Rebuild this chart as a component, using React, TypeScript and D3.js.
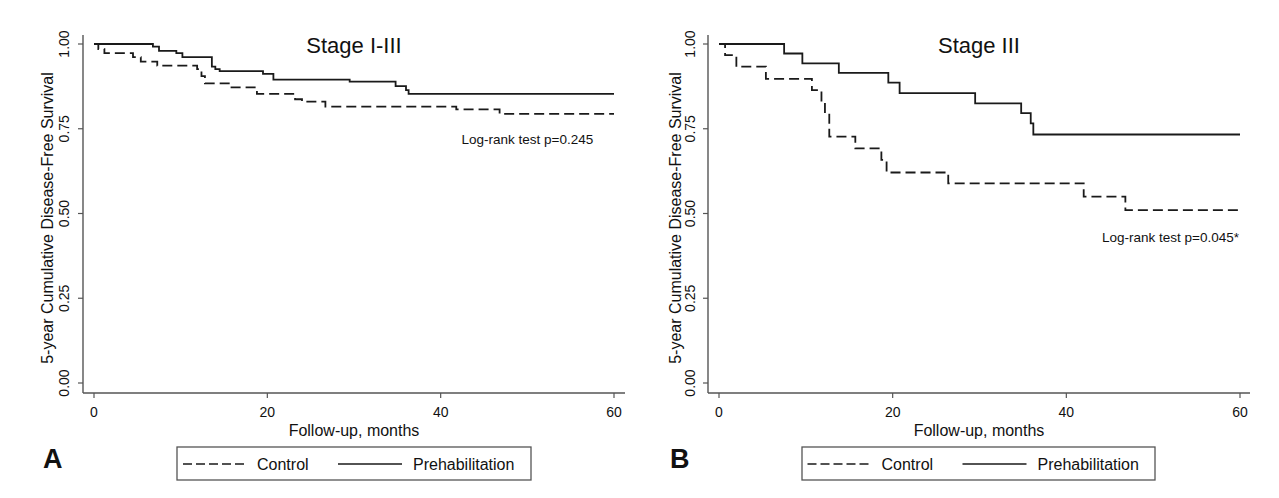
import React from "react";
import * as d3 from "d3";

// ---- data ----
const xTickValues = [0, 20, 40, 60];
const yTickValues = [0, 0.25, 0.5, 0.75, 1];
const yTickLabels = ["0.00", "0.25", "0.50", "0.75", "1.00"];

// Panel A: Stage I-III
const prehabA_t = [0, 6.8, 7.5, 9.5, 10.2, 13.6, 14.0, 14.5, 19.5, 20.7, 29.5, 34.8, 36.0, 36.3, 60];
const prehabA_s = [1.0, 0.992, 0.98, 0.973, 0.961, 0.933, 0.926, 0.92, 0.912, 0.895, 0.889, 0.876, 0.864, 0.853, 0.853];
const controlA_t = [0, 0.5, 1.2, 4.5, 5.4, 7.3, 11.9, 12.4, 12.8, 15.7, 18.8, 23.2, 24.0, 26.7, 41.8, 46.8, 60];
const controlA_s = [1.0, 0.985, 0.973, 0.961, 0.948, 0.936, 0.926, 0.905, 0.884, 0.872, 0.853, 0.837, 0.83, 0.815, 0.807, 0.794, 0.794];

// Panel B: Stage III
const prehabB_t = [0, 7.5, 9.6, 13.8, 19.5, 20.8, 29.5, 34.8, 35.9, 36.2, 60];
const prehabB_s = [1.0, 0.972, 0.943, 0.915, 0.886, 0.855, 0.825, 0.796, 0.766, 0.733, 0.733];
const controlB_t = [0, 0.7, 2.0, 5.4, 10.7, 11.8, 12.2, 12.7, 15.7, 18.7, 19.3, 26.4, 42.0, 46.8, 60];
const controlB_s = [1.0, 0.967, 0.933, 0.897, 0.864, 0.83, 0.795, 0.727, 0.692, 0.658, 0.621, 0.589, 0.55, 0.51, 0.51];

const panels = [
  {
    letter: "A",
    title: "Stage I-III",
    logrank: "Log-rank test p=0.245",
    logrankAt: [50, 0.705],
    prehab: { t: prehabA_t, s: prehabA_s },
    control: { t: controlA_t, s: controlA_s },
    x0: 94, x60: 614, axisL: 83, axisR: 625,
    tickLabelX: 69, titleX: 53, letterX: 43,
    legendL: 177, legendR: 531,
  },
  {
    letter: "B",
    title: "Stage III",
    logrank: "Log-rank test p=0.045*",
    logrankAt: [52, 0.415],
    prehab: { t: prehabB_t, s: prehabB_s },
    control: { t: controlB_t, s: controlB_s },
    x0: 719, x60: 1240, axisL: 708, axisR: 1250,
    tickLabelX: 695, titleX: 681, letterX: 670,
    legendL: 802, legendR: 1155,
  },
];

const FONT = "'Liberation Sans', Arial, Helvetica, sans-serif";
const LINE = "#1a1a1a";
const AXIS = "#555";

function Panel({ p }: { p: any }) {
  const x = d3.scaleLinear().domain([0, 60]).range([p.x0, p.x60]);
  const y = d3.scaleLinear().domain([0, 1]).range([383, 44]);
  const axisY = 393;
  const axisTop = 35;
  const line = d3
    .line<number>()
    .x((_, i) => 0)
    .curve(d3.curveStepAfter);
  const mk = (ser: { t: number[]; s: number[] }) =>
    d3
      .line<number>()
      .x((d, i) => x(ser.t[i]))
      .y((d) => y(d))
      .curve(d3.curveStepAfter)(ser.s) as string;
  void line;
  const cx = (p.axisL + p.axisR) / 2;
  const legCx = (p.legendL + p.legendR) / 2;
  return (
    <g fontFamily={FONT}>
      {/* axes */}
      <line x1={p.axisL} x2={p.axisL} y1={axisTop} y2={axisY} stroke={AXIS} strokeWidth={1.4} />
      <line x1={p.axisL} x2={p.axisR} y1={axisY} y2={axisY} stroke={AXIS} strokeWidth={1.4} />
      {yTickValues.map((v, i) => (
        <g key={"y" + i}>
          <line x1={p.axisL - 5} x2={p.axisL} y1={y(v)} y2={y(v)} stroke={AXIS} strokeWidth={1.2} />
          <text
            transform={`translate(${p.tickLabelX},${y(v)}) rotate(-90)`}
            textAnchor="middle"
            fontSize={14}
            fill="#111"
          >
            {yTickLabels[i]}
          </text>
        </g>
      ))}
      {xTickValues.map((v) => (
        <g key={"x" + v}>
          <line x1={x(v)} x2={x(v)} y1={axisY} y2={axisY + 5} stroke={AXIS} strokeWidth={1.2} />
          <text x={x(v)} y={417} textAnchor="middle" fontSize={14} fill="#111">
            {v}
          </text>
        </g>
      ))}
      <text x={cx} y={436} textAnchor="middle" fontSize={16} fill="#111">
        Follow-up, months
      </text>
      <text
        transform={`translate(${p.titleX},218) rotate(-90)`}
        textAnchor="middle"
        fontSize={16}
        fill="#111"
      >
        5-year Cumulative Disease-Free Survival
      </text>
      {/* title */}
      <text x={cx} y={53} textAnchor="middle" fontSize={22} fill="#111">
        {p.title}
      </text>
      {/* curves */}
      <path d={mk(p.control)} fill="none" stroke={LINE} strokeWidth={1.8} strokeDasharray="10,5" />
      <path d={mk(p.prehab)} fill="none" stroke={LINE} strokeWidth={1.8} />
      <text x={x(p.logrankAt[0])} y={y(p.logrankAt[1])} textAnchor="middle" fontSize={13.5} fill="#111">
        {p.logrank}
      </text>
      {/* legend */}
      <rect x={p.legendL} y={447} width={p.legendR - p.legendL} height={33} fill="none" stroke={AXIS} strokeWidth={1.3} />
      <line x1={legCx - 171} x2={legCx - 107} y1={464} y2={464} stroke={LINE} strokeWidth={1.5} strokeDasharray="9,4" />
      <text x={legCx - 97} y={469.5} fontSize={16} fill="#111">Control</text>
      <line x1={legCx - 16} x2={legCx + 48} y1={464} y2={464} stroke={LINE} strokeWidth={1.5} />
      <text x={legCx + 59} y={469.5} fontSize={16} fill="#111">Prehabilitation</text>
      {/* panel letter */}
      <text x={p.letterX} y={468} fontSize={27} fontWeight="bold" fill="#111">
        {p.letter}
      </text>
    </g>
  );
}

export default function App() {
  return (
    <svg
      width={1279}
      height={498}
      style={{ position: "absolute", left: 0, top: 0, background: "#fff" }}
    >
      <rect width={1279} height={498} fill="#fff" />
      {panels.map((p) => (
        <Panel key={p.letter} p={p} />
      ))}
    </svg>
  );
}
